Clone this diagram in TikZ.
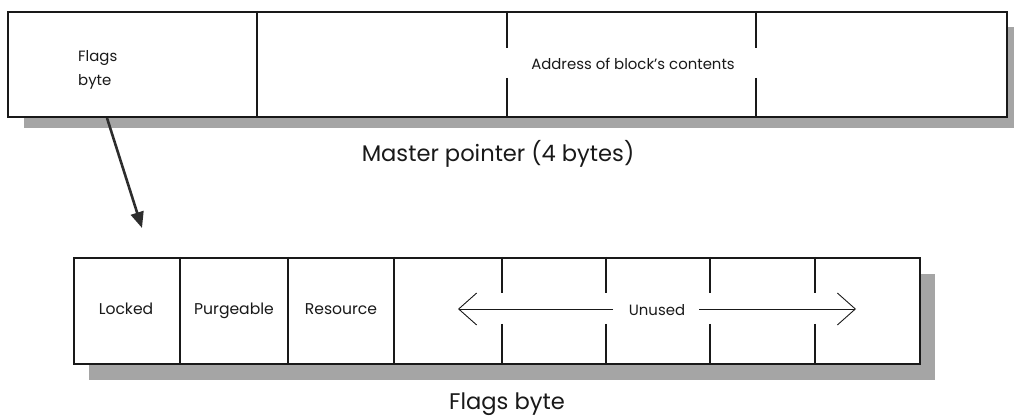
\documentclass[tikz,border=0pt]{standalone}
\usepackage{fontspec}
\setmainfont{Poppins}
\usetikzlibrary{arrows.meta}
\definecolor{shade}{RGB}{165,165,165}
\definecolor{ink}{RGB}{25,25,25}
\definecolor{arrowink}{RGB}{45,45,45}
\tikzset{
  shadowrect/.style={fill=shade, draw=none},
  outerbox/.style={draw=ink, line width=1.7pt, fill=white, inner sep=0pt, anchor=north west},
  divider/.style={draw=ink, line width=1.7pt},
  biglbl/.style={font=\fontsize{22.6}{26}\selectfont, inner sep=0pt, anchor=base, text=ink},
  smalllbl/.style={font=\fontsize{14.9}{18}\selectfont, inner sep=0pt, text=ink},
  cellllbl/.style={font=\fontsize{15.6}{19}\selectfont, inner sep=0pt, anchor=base, text=ink},
  openarrow/.style={draw=ink, line width=0.9pt, -{Straight Barb[length=18pt,width=32pt,line width=0.9pt]}},
  pointarrow/.style={draw=arrowink, line width=2.6pt, -{Triangle[length=16pt,width=13pt]}},
}
\begin{document}
\begin{tikzpicture}[x=1pt,y=-1pt]
\useasboundingbox (0,0) rectangle (1014,419);
% ---- master pointer ----
\fill[shadowrect] (24,27) rectangle (1014,128);
\node[outerbox, minimum width=999pt, minimum height=105pt] (mp) at (7,11) {};
\draw[divider] (257,11) -- (257,116);
\draw[divider] (507,11) -- (507,48);
\draw[divider] (507,78) -- (507,116);
\draw[divider] (756,11) -- (756,48);
\draw[divider] (756,78) -- (756,116);
\node[smalllbl, anchor=base west] (fl1) at (78,62) {Flags};
\node[smalllbl, anchor=base west] (fl2) at (78,86) {byte};
\node[smalllbl, anchor=base] (addr) at (633,70) {Address of block's contents};
\node[biglbl] (mpcap) at (498,162) {Master pointer (4 bytes)};
% ---- flags byte ----
\fill[shadowrect] (89,274) rectangle (935,380);
\node[outerbox, minimum width=846pt, minimum height=106pt] (fb) at (73,257) {};
\foreach \x in {180,288,394} \draw[divider] (\x,257) -- (\x,363);
\foreach \x in {502,606,710,815} {
  \draw[divider] (\x,257) -- (\x,293);
  \draw[divider] (\x,324) -- (\x,363);
}
\node[cellllbl] (locked) at (126,315) {Locked};
\node[cellllbl] (purge) at (234,315) {Purgeable};
\node[cellllbl] (res) at (341,315) {Resource};
\node[smalllbl, anchor=base] (unused) at (657,316) {Unused};
\node[biglbl] (fbcap) at (507,409) {Flags byte};
\coordinate (ul) at (458,309);
\coordinate (ur) at (856,309);
\coordinate (ulstart) at (613,309);
\coordinate (urstart) at (699,309);
\draw[openarrow] (ulstart) -- (ul);
\draw[openarrow] (urstart) -- (ur);
% ---- pointer arrow ----
\coordinate (pa) at (107,118);
\coordinate (pb) at (142,228);
\draw[pointarrow] (pa) -- (pb);
\end{tikzpicture}
\end{document}
